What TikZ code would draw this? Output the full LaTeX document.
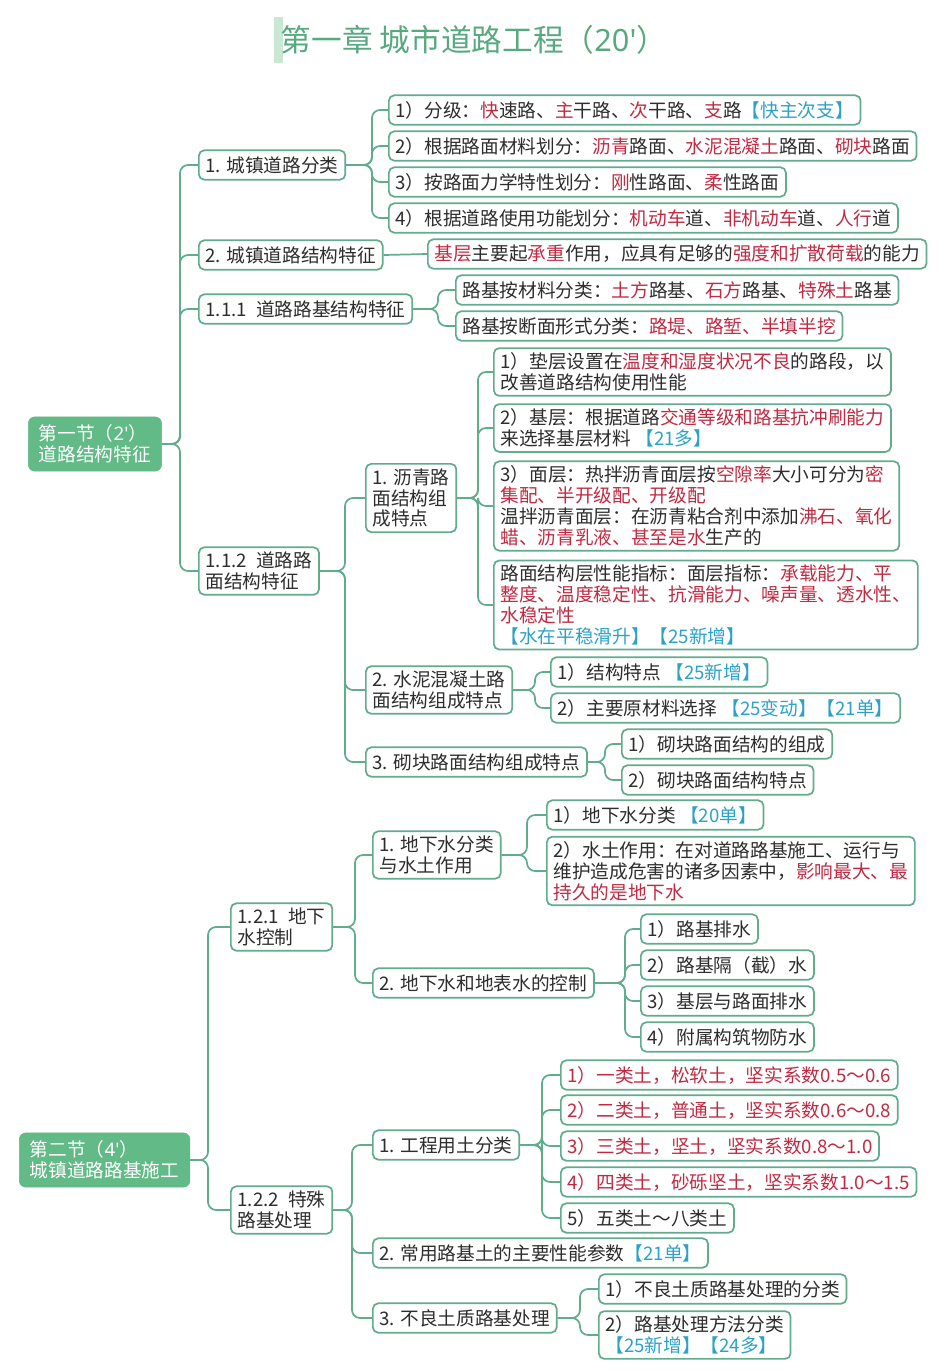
\documentclass[tikz,border=0pt]{standalone}
\usepackage{fontspec}
\setmainfont{Noto Sans CJK SC}
\newfontfamily\latin{Noto Sans}
\definecolor{lkgreen}{RGB}{98,172,142}
\definecolor{secgreen}{RGB}{98,186,134}
\definecolor{ttlgreen}{RGB}{88,168,128}
\definecolor{barGreen}{RGB}{200,232,212}
\definecolor{kwred}{RGB}{192,42,66}
\definecolor{mkblue}{RGB}{45,162,200}
\definecolor{txtgray}{RGB}{45,45,45}
\newcommand{\kw}[1]{\textcolor{kwred}{#1}}
\newcommand{\mk}[1]{\textcolor{mkblue}{#1}}

\begin{document}
\begin{tikzpicture}[
      x=0.75pt, y=-0.75pt,
      every node/.style={font=\fontsize{14}{15.6}\selectfont, text=txtgray},
      box/.style={draw=lkgreen, line width=1.3pt, rounded corners=4pt, fill=white,
                  anchor=west, align=left, inner xsep=5pt, inner ysep=3.5pt,
                  minimum height=22pt},
      sec/.style={draw=secgreen, fill=secgreen, rounded corners=5pt, anchor=west,
                  align=left, inner xsep=8pt, inner ysep=6pt, text=white},
      link/.style={draw=lkgreen, line width=1.3pt, rounded corners=6pt},
    ]
    \useasboundingbox (0,0) rectangle (946,1371);

    % --- title ---
    \fill[barGreen] (274,17) rectangle (283,63);
    \node[font=\fontsize{23}{26}\selectfont, text=ttlgreen] (ttl) at (474,40)
      {第一章 城市道路工程（{\latin 20'}）};

    % --- section 1 ---
    \node[sec] (s1) at (28,444) {第一节（{\latin 2'}）\\道路结构特征};

    \node[box] (k1) at (198,165) {1. 城镇道路分类};
    \node[box] (k2) at (198,255) {2. 城镇道路结构特征};
    \node[box] (k3) at (198,309) {1.1.1\enspace 道路路基结构特征};
    \node[box] (k4) at (198,571) {1.1.2\enspace 道路路\\面结构特征};

    \node[box] (k11) at (388,110) {1）分级：\kw{快}速路、\kw{主}干路、\kw{次}干路、\kw{支}路\mk{【快主次支】}};
    \node[box] (k12) at (388,146) {2）根据路面材料划分：\kw{沥青}路面、\kw{水泥混凝土}路面、\kw{砌块}路面};
    \node[box] (k13) at (388,182) {3）按路面力学特性划分：\kw{刚}性路面、\kw{柔}性路面};
    \node[box] (k14) at (388,218) {4）根据道路使用功能划分：\kw{机动车}道、\kw{非机动车}道、\kw{人行}道};

    \node[box] (k21) at (427,254) {\kw{基层}主要起\kw{承重}作用，应具有足够的\kw{强度和扩散荷载}的能力};

    \node[box] (k31) at (455,290) {路基按材料分类：\kw{土方}路基、\kw{石方}路基、\kw{特殊土}路基};
    \node[box] (k32) at (455,326) {路基按断面形式分类：\kw{路堤、路堑、半填半挖}};

    % 1.1.2 branch
    \node[box] (p1) at (365,498) {1. 沥青路\\面结构组\\成特点};
    \node[box] (p2) at (365,690) {2. 水泥混凝土路\\面结构组成特点};
    \node[box] (p3) at (365,762) {3. 砌块路面结构组成特点};

    \node[box] (p11) at (493,372) {1）垫层设置在\kw{温度和湿度状况不良}的路段，以\\改善道路结构使用性能};
    \node[box] (p12) at (493,428) {2）基层：根据道路\kw{交通等级和路基抗冲刷能力}\\来选择基层材料 \mk{【21多】}};
    \node[box] (p13) at (493,506) {3）面层：热拌沥青面层按\kw{空隙率}大小可分为\kw{密}\\\kw{集配、半开级配、开级配}\\温拌沥青面层：在沥青粘合剂中添加\kw{沸石、氧化}\\\kw{蜡、沥青乳液、甚至是水}生产的};
    \node[box] (p14) at (493,605) {路面结构层性能指标：面层指标：\kw{承载能力、平}\\\kw{整度、温度稳定性、抗滑能力、噪声量、透水性、}\\\kw{水稳定性}\\\mk{【水在平稳滑升】【25新增】}};

    \node[box] (p21) at (550,672) {1）结构特点 \mk{【25新增】}};
    \node[box] (p22) at (550,708) {2）主要原材料选择 \mk{【25变动】【21单】}};

    \node[box] (p31) at (621,744) {1）砌块路面结构的组成};
    \node[box] (p32) at (621,780) {2）砌块路面结构特点};

    % --- section 2 ---
    \node[sec] (s2) at (19,1160) {第二节（{\latin 4'}）\\城镇道路路基施工};

    \node[box] (g1) at (230,927) {1.2.1\enspace 地下\\水控制};
    \node[box] (g2) at (230,1210) {1.2.2\enspace 特殊\\路基处理};

    \node[box] (w1) at (372,855) {1. 地下水分类\\与水土作用};
    \node[box] (w2) at (372,983) {2. 地下水和地表水的控制};

    \node[box] (w11) at (546,815) {1）地下水分类 \mk{【20单】}};
    \node[box] (w12) at (546,871) {2）水土作用：在对道路路基施工、运行与\\维护造成危害的诸多因素中，\kw{影响最大、最}\\\kw{持久的是地下水}};

    \node[box] (w21) at (640,929) {1）路基排水};
    \node[box] (w22) at (640,965) {2）路基隔（截）水};
    \node[box] (w23) at (640,1001) {3）基层与路面排水};
    \node[box] (w24) at (640,1037) {4）附属构筑物防水};

    \node[box] (t1) at (372,1145) {1. 工程用土分类};
    \node[box] (t2) at (372,1253) {2. 常用路基土的主要性能参数\mk{【21单】}};
    \node[box] (t3) at (372,1318) {3. 不良土质路基处理};

    \node[box] (t11) at (560,1075) {\kw{1）一类土，松软土，坚实系数0.5～0.6}};
    \node[box] (t12) at (560,1110) {\kw{2）二类土，普通土，坚实系数0.6～0.8}};
    \node[box] (t13) at (560,1146) {\kw{3）三类土，坚土，坚实系数0.8～1.0}};
    \node[box] (t14) at (560,1182) {\kw{4）四类土，砂砾坚土，坚实系数1.0～1.5}};
    \node[box] (t15) at (560,1218) {5）五类土～八类土};

    \node[box] (t31) at (598,1289) {1）不良土质路基处理的分类};
    \node[box] (t32) at (598,1335) {2）路基处理方法分类\\\mk{【25新增】【24多】}};

    % --- connectors ---
    \foreach \c in {k1,k2,k3,k4} \draw[link] (\c.west) -- ++(-18,0) |- (s1.east);
    \foreach \c in {k11,k12,k13,k14} \draw[link] (\c.west) -- ++(-16,0) |- (k1.east);
    \draw[link] (k2.east) -- (k21.west);
    \foreach \c in {k31,k32} \draw[link] (\c.west) -- ++(-17,0) |- (k3.east);
    \foreach \c in {p1,p2,p3} \draw[link] (\c.west) -- ++(-20,0) |- (k4.east);
    \foreach \c in {p11,p12,p13,p14} \draw[link] (\c.west) -- ++(-15,0) |- (p1.east);
    \foreach \c in {p21,p22} \draw[link] (\c.west) -- ++(-15,0) |- (p2.east);
    \foreach \c in {p31,p32} \draw[link] (\c.west) -- ++(-16,0) |- (p3.east);

    \foreach \c in {g1,g2} \draw[link] (\c.west) -- ++(-22,0) |- (s2.east);
    \foreach \c in {w1,w2} \draw[link] (\c.west) -- ++(-17,0) |- (g1.east);
    \foreach \c in {w11,w12} \draw[link] (\c.west) -- ++(-19,0) |- (w1.east);
    \foreach \c in {w21,w22,w23,w24} \draw[link] (\c.west) -- ++(-15,0) |- (w2.east);
    \foreach \c in {t1,t2,t3} \draw[link] (\c.west) -- ++(-20,0) |- (g2.east);
    \foreach \c in {t11,t12,t13,t14,t15} \draw[link] (\c.west) -- ++(-18,0) |- (t1.east);
    \foreach \c in {t31,t32} \draw[link] (\c.west) -- ++(-18,0) |- (t3.east);
  \end{tikzpicture}
\end{document}
